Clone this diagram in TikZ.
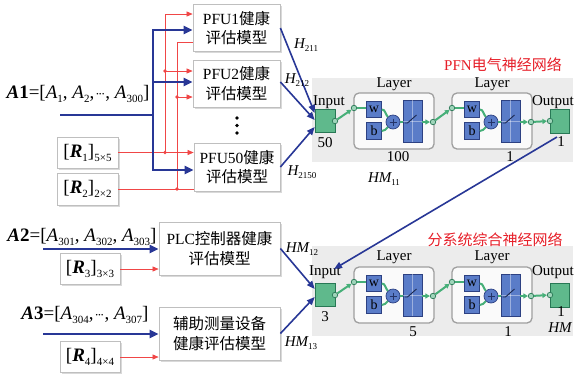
\documentclass[tikz,border=0pt]{standalone}
\usepackage{fontspec}
\setmainfont{Liberation Serif}
\newfontfamily\cjk{Noto Sans CJK SC}
\usetikzlibrary{arrows.meta,shadows,calc}

\definecolor{myblue}{RGB}{40,55,150}
\definecolor{myred}{RGB}{240,70,70}
\definecolor{tred}{RGB}{230,30,40}
\definecolor{bggray}{RGB}{236,236,236}
\definecolor{ngreen}{RGB}{95,185,140}
\definecolor{ngreend}{RGB}{40,120,85}
\definecolor{cgreen}{RGB}{70,175,120}
\definecolor{nblue}{RGB}{90,124,200}
\definecolor{nblued}{RGB}{45,65,130}

\newcommand\mysub[1]{\raisebox{-0.45ex}{\fontsize{11}{11}\selectfont #1}}
\newcommand\hsub[1]{\raisebox{-0.5ex}{\fontsize{9}{9}\selectfont #1}}
\newcommand\mycdots{{\fontsize{13}{13}\selectfont\textperiodcentered\kern-1.5pt\textperiodcentered\kern-1.5pt\textperiodcentered}}
\newcommand\hlab[2]{{\fontsize{15}{15}\selectfont\itshape #1}\hsub{#2}}

% one layer of a network
\newcommand\nlayer[2]{%
 \begin{scope}[xshift=#2]
  \node[lbox] (#1box) at (394,121) {};
  \node[sc] (#1lc) at (354,108) {};
  \node[wbox] (#1w) at (374,109.5) {w};
  \node[wbox] (#1b) at (374,131) {b};
  \node[pl] (#1p) at (393,122) {};
  \node[tfbox] (#1tf) at (412.5,121) {};
  \node[sc] (#1rc) at (433,122) {};
  \draw[white,opacity=0.4,line width=0.5pt] (#1tf.north) -- (#1tf.south);
  \draw[white,opacity=0.4,line width=0.5pt] (#1tf.west) -- (#1tf.east);
  \draw[nblued!60!black,line width=0.9pt] ($(#1tf.center)+(-8,2)$) -- ++(3,0) -- ++(9,-8);
  \draw[nblued!80!black,line width=0.9pt] ($(#1p.center)+(-3.5,0)$) -- ++(7,0);
  \draw[nblued!80!black,line width=0.9pt] ($(#1p.center)+(0,-3.5)$) -- ++(0,7);
  \draw[gc] (#1lc) -- (#1w.west |- #1lc);
  \draw[gc] (#1w.east) to[out=0,in=135] (#1p.north west);
  \draw[gc] (#1b.east) to[out=0,in=-135] (#1p.south west);
  \draw[gc] (#1p.east) -- (#1tf.west |- #1p);
  \draw[gca] (#1tf.east |- #1rc) -- (#1rc);
 \end{scope}}

% a whole network
\newcommand\nnet[2]{%
 \begin{scope}[yshift=#2]
  \node[insq] (#1in) at (325,121) {};
  \node[sc] (#1ic) at (335,121) {};
  \nlayer{#1a}{0pt}
  \nlayer{#1b}{98pt}
  \node[insq, minimum width=19pt, minimum height=24pt] (#1out) at (559.5,121) {};
  \node[sc] (#1oc) at (550,121) {};
  \draw[gca] (#1ic) -- (#1alc);
  \draw[gca] (#1arc) -- (#1blc);
  \draw[gca] (#1brc) -- (#1oc);
 \end{scope}}

\begin{document}
\begin{tikzpicture}[x=1pt,y=-1pt,
 box/.style={draw=gray!50, fill=white, line width=0.8pt,
   drop shadow={shadow xshift=1.5pt,shadow yshift=-1.5pt,opacity=0.3,fill=gray},
   align=center, inner sep=0pt, font=\fontsize{15.5}{19.5}\selectfont},
 rbox/.style={draw=gray!50, fill=white, line width=0.8pt,
   drop shadow={shadow xshift=1.5pt,shadow yshift=-1.5pt,opacity=0.3,fill=gray},
   inner sep=0pt, minimum width=61pt, minimum height=31pt, font=\fontsize{19}{19}\selectfont},
 bl/.style={draw=myblue, line width=2.2pt},
 bla/.style={bl, -{Triangle[length=9pt,width=8pt]}},
 hl/.style={draw=myblue, line width=1.6pt, -{Triangle[length=8pt,width=6.5pt]}},
 rl/.style={draw=myred, line width=0.6pt},
 rla/.style={rl, -{Triangle[length=6pt,width=5pt]}},
 rdot/.style={circle, fill=myred, inner sep=0pt, minimum size=3.8pt},
 lbl/.style={font=\fontsize{15}{15}\selectfont, inner sep=0pt},
 big/.style={font=\fontsize{19}{19}\selectfont, inner sep=0pt},
 ttl/.style={font=\fontsize{15}{15}\selectfont, text=tred, inner sep=0pt},
 insq/.style={draw=ngreend, fill=ngreen, line width=0.6pt, minimum width=20pt, minimum height=23pt, inner sep=0pt},
 sc/.style={circle, inner sep=0pt, minimum size=5.5pt, fill=ngreen!60!white, draw=ngreend, line width=0.7pt},
 lbox/.style={draw=gray!75, fill=white!96!gray, line width=1.3pt, rounded corners=5pt, minimum width=80pt, minimum height=56pt},
 wbox/.style={draw=nblued, fill=nblue, line width=0.6pt, minimum width=15pt, minimum height=16.5pt, inner sep=0pt, font=\fontsize{14}{14}\selectfont},
 pl/.style={circle, draw=nblued, fill=nblue, line width=0.7pt, minimum size=14pt, inner sep=0pt},
 tfbox/.style={draw=nblued, fill=nblue, line width=0.6pt, minimum width=19pt, minimum height=42pt, inner sep=0pt},
 gc/.style={draw=cgreen, line width=2pt},
 gca/.style={gc, -{Triangle[length=4.5pt,width=5pt]}},
]
\useasboundingbox (0,0) rectangle (574,376);

% ---------- network backgrounds ----------
\fill[bggray] (312,78) rectangle (573,162);
\fill[bggray] (312,246) rectangle (573,336);
\node[ttl] (t1) at (503,65) {PFN{\cjk 电气神经网络}};
\node[ttl] (t2) at (495,240) {{\cjk 分系统综合神经网络}};

\nnet{n}{0pt}
\nnet{m}{-174pt}

% network labels
\node[lbl] (ninl) at (329,102) {Input};
\node[lbl] (ninn) at (325,143) {50};
\node[lbl] (nal) at (394,84) {Layer};
\node[lbl] (nbl) at (492,84) {Layer};
\node[lbl] (nan) at (398,157) {100};
\node[lbl] (nbn) at (510,157) {1};
\node[lbl] (noutl) at (553,102) {Output};
\node[lbl] (noutn) at (561,142) {1};

\node[lbl] (minl) at (325,272) {Input};
\node[lbl] (minn) at (325,317) {3};
\node[lbl] (mal) at (394,257) {Layer};
\node[lbl] (mbl) at (492,257) {Layer};
\node[lbl] (man) at (413,332) {5};
\node[lbl] (mbn) at (508,332) {1};
\node[lbl] (moutl) at (553,272) {Output};
\node[lbl] (moutn) at (561,312) {1};
\node[lbl] (mhm) at (560,328) {\itshape HM};

% ---------- PFU boxes ----------
\node[box, minimum width=87pt, minimum height=47pt] (pfu1) at (236.5,28) {PFU1{\cjk 健康}\\{\cjk 评估模型}};
\node[box, minimum width=87pt, minimum height=47pt] (pfu2) at (236.5,83.5) {PFU2{\cjk 健康}\\{\cjk 评估模型}};
\node[box, minimum width=86pt, minimum height=48pt] (pfu50) at (237,167) {PFU50{\cjk 健康}\\{\cjk 评估模型}};
\fill (237,118) circle (1.9) (237,125.5) circle (1.9) (237,133) circle (1.9);

\node[box, minimum width=121pt, minimum height=53pt] (plc) at (219.5,248.5) {PLC{\cjk 控制器健康}\\{\cjk 评估模型}};
\node[box, minimum width=121pt, minimum height=53pt] (aux) at (219.5,333.5) {{\cjk 辅助测量设备}\\{\cjk 健康评估模型}};

% ---------- R boxes ----------
\node[rbox] (r1) at (87.5,152.5) {[\textbf{\textit{R}}\mysub{1}]\mysub{5×5}};
\node[rbox, minimum height=32pt] (r2) at (87.5,189) {[\textbf{\textit{R}}\mysub{2}]\mysub{2×2}};
\node[rbox, minimum width=60pt] (r3) at (90,269) {[\textbf{\textit{R}}\mysub{3}]\mysub{3×3}};
\node[rbox, minimum width=60pt] (r4) at (90,357) {[\textbf{\textit{R}}\mysub{4}]\mysub{4×4}};

% ---------- A texts ----------
\node[big] (a1) at (78,94) {\textbf{\textit{A}1}=[\textit{A}\mysub{1}, \textit{A}\mysub{2},\kern1pt\mycdots, \textit{A}\mysub{300}]};
\node[big] (a2) at (82,237) {\textbf{\textit{A}2}=[\textit{A}\mysub{301}, \textit{A}\mysub{302}, \textit{A}\mysub{303}]};
\node[big] (a3) at (85,315) {\textbf{\textit{A}3}=[\textit{A}\mysub{304},\kern1pt\mycdots, \textit{A}\mysub{307}]};

% ---------- red lines ----------
\coordinate (rv1t) at (165,14);
\coordinate (rv1m) at (165,71);
\coordinate (rv1b) at (165,152.5);
\coordinate (rv2t) at (177,42);
\coordinate (rv2m) at (177,97);
\coordinate (rv2b) at (177,189);
\draw[rl] (rv1t) -- (rv1b);
\draw[rl] (rv2t) -- (rv2b);
\draw[rla] (rv1t) -- (rv1t -| pfu1.west);
\draw[rl] (rv2t) -- (rv2t -| pfu1.west);
\draw[rla] (rv1m) -- (rv1m -| pfu2.west);
\draw[rla] (rv2m) -- (rv2m -| pfu2.west);
\draw[rla] (r1.east) -- (r1.east -| pfu50.west);
\draw[rl] (r2.east) -- (r2.east -| pfu50.west);
\node[rdot] (d1) at (rv1m) {};
\node[rdot] (d2) at (rv2m) {};
\node[rdot] (d3) at (rv1b) {};
\node[rdot] (d4) at (rv2b) {};
\draw[rla] (r3.east) -- (r3.east -| plc.west);
\draw[rla] (r4.east) -- (r4.east -| aux.west);

% ---------- blue lines ----------
\coordinate (a1s) at (60,115);
\coordinate (bj) at (153,115);
\coordinate (bt) at (153,30);
\coordinate (bm) at (153,82);
\coordinate (bb) at (153,170);
\draw[bl] (a1s) -- (bj);
\draw[bl, line cap=rect] (bt) -- (bb);
\draw[bla] (bt) -- (bt -| pfu1.west);
\draw[bla] (bm) -- (bm -| pfu2.west);
\draw[bla] (bb) -- (bb -| pfu50.west);
\coordinate (a2s) at (43,249);
\coordinate (a3s) at (43,334);
\draw[bla] (a2s) -- (a2s -| plc.west);
\draw[bla] (a3s) -- (a3s -| aux.west);

% ---------- H arrows ----------
\draw[hl] (pfu1.east) -- ([yshift=8pt]nin.west);
\draw[hl] (pfu2.east |- 0,82) -- ([yshift=1pt]nin.west);
\draw[hl] (pfu50.east) -- ([yshift=-6pt]nin.west);
\node (h1) at (306,45) {\hlab{H}{211}};
\node (h2) at (297,80) {\hlab{H}{212}};
\node (h3) at (302,172) {\hlab{H}{2150}};

\coordinate (hm11s) at (557,137);
\coordinate (hm11e) at (334,269);
\draw[hl] (hm11s) -- (hm11e);
\draw[hl] (plc.east) -- ([yshift=6pt]min.west);
\draw[hl] (aux.east) -- ([yshift=-2pt]min.west);
\node (hm1) at (384,179) {\hlab{HM}{11}};
\node (hm2) at (302,249) {\hlab{HM}{12}};
\node (hm3) at (301,343) {\hlab{HM}{13}};
\end{tikzpicture}
\end{document}
